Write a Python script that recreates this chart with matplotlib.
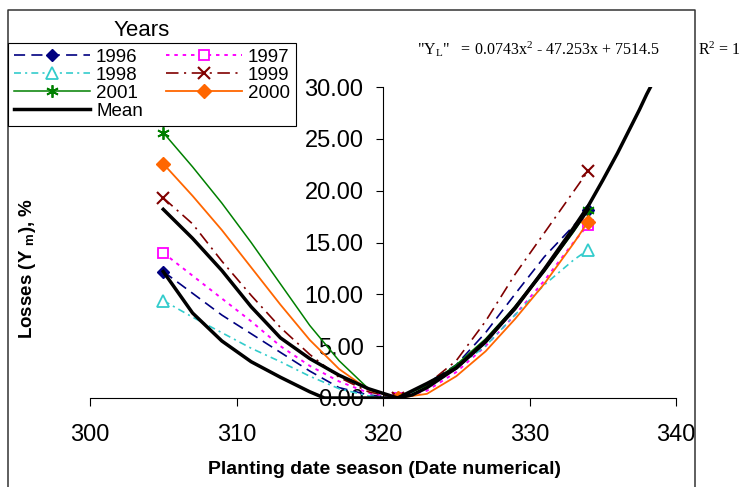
import matplotlib
matplotlib.use("Agg")
import matplotlib.pyplot as plt
from matplotlib.lines import Line2D

plt.rcParams['font.family'] = ['Liberation Sans', 'DejaVu Sans']
plt.rcParams['mathtext.fontset'] = 'custom'
plt.rcParams['mathtext.rm'] = 'Liberation Serif'
plt.rcParams['mathtext.it'] = 'Liberation Serif:italic'
plt.rcParams['mathtext.bf'] = 'Liberation Sans:bold'
plt.rcParams['lines.scale_dashes'] = False

# planting dates (date numerical) and losses, %
dates = [305, 307, 309, 311, 313, 315, 317, 319, 321, 323, 325, 327, 329, 331, 333, 334]
y1996 = [12.2, 10.1, 8.0, 6.2, 4.4, 2.6, 1.0, 0.3, 0, 1.4, 3.2, 6.3, 10.0, 13.6, 16.6, 18.1]
y1997 = [14.0, 11.8, 9.6, 7.4, 5.0, 3.1, 1.6, 0.5, 0, 0.7, 2.5, 5.0, 8.0, 11.3, 15.0, 16.7]
y1998 = [9.4, 7.8, 6.3, 4.8, 3.5, 2.1, 0.9, 0.2, 0, 1.0, 2.9, 5.0, 8.0, 10.9, 13.3, 14.3]
y1999 = [19.3, 16.8, 13.2, 9.9, 6.8, 4.2, 2.0, 0.6, 0, 1.3, 3.6, 7.4, 11.9, 15.9, 19.9, 21.9]
y2001 = [25.6, 22.3, 18.8, 15.0, 11.0, 7.0, 3.6, 0.9, 0, 1.2, 3.2, 5.7, 8.8, 12.2, 16.0, 18.1]
y2000 = [22.6, 19.5, 16.2, 12.6, 9.0, 5.6, 2.8, 0.8, 0, 0.4, 2.1, 4.5, 7.6, 11.0, 14.9, 17.0]
ymean = [18.2, 15.4, 12.3, 8.8, 5.8, 3.8, 2.2, 0.9, 0, 1.4, 2.9, 5.4, 8.7, 12.3, 16.2, 18.2]
marked = [0, 8, 15]   # observed points: 305, 321, 334

# fitted curve Y_L (clipped at 0 by the axis)
fit_dates = [305, 307, 309, 311, 313, 315, 316, 317, 319, 321, 322, 323, 325, 327, 329, 331, 333,
             334, 335, 336, 337, 337.5, 338, 339]
fit_y = [12.2, 8.2, 5.5, 3.5, 2.0, 0.6, 0, 0, 0, 0, 0.3, 1.0, 2.9, 5.5, 8.6, 12.4, 16.4,
         18.5, 21.0, 23.6, 26.4, 27.8, 29.3, 32.0]

xticks = [300, 310, 320, 330, 340]
yticks = [0, 5, 10, 15, 20, 25, 30]

W, H = 746, 487
fig = plt.figure(figsize=(W / 100, H / 100), dpi=100)
ax = fig.add_axes([90 / W, 89 / H, 586 / W, 311 / H])

h1996, = ax.plot(dates, y1996, color='#000080', lw=1.2, dashes=(8, 4.5),
                 marker='D', ms=6.5, mfc='#000080', mec='#000080', markevery=marked)
h1997, = ax.plot(dates, y1997, color='#FF00FF', lw=1.4, dashes=(2.5, 3.5),
                 marker='s', ms=7, mfc='white', mec='#FF00FF', mew=1.3, markevery=marked)
h1998, = ax.plot(dates, y1998, color='#33CCCC', lw=1.2, dashes=(5, 3, 1.5, 3),
                 marker='^', ms=8, mfc='white', mec='#33CCCC', mew=1.3, markevery=marked)
h1999, = ax.plot(dates, y1999, color='#800000', lw=1.2, dashes=(9, 4, 1.5, 4),
                 marker='x', ms=8, mec='#800000', mew=1.5, markevery=marked)
h2001, = ax.plot(dates, y2001, color='#008000', lw=1.1,
                 marker=(6, 2, 0), ms=9, mec='#008000', mew=1.3, markevery=marked)
h2000, = ax.plot(dates, y2000, color='#FF6600', lw=1.3,
                 marker='D', ms=7, mfc='#FF6600', mec='#FF6600', markevery=marked)
hmean, = ax.plot(dates, ymean, color='black', lw=2.5)
ax.plot(fit_dates, fit_y, color='black', lw=2.5)

ax.set_xlim(300, 340)
ax.set_ylim(0, 30)
ax.set_xticks(xticks)
ax.set_yticks(yticks)
ax.set_yticklabels(['%.2f' % v for v in yticks])
ax.spines['left'].set_position(('data', 320))
ax.spines['top'].set_visible(False)
ax.spines['right'].set_visible(False)
ax.tick_params(axis='y', direction='out', length=5, labelsize=17, pad=9)
ax.tick_params(axis='x', direction='out', length=6, labelsize=17, pad=13)
ax.patch.set_visible(False)

fig.text(385 / W, 1 - 469 / H, 'Planting date season (Date numerical)', ha='center', va='center',
         fontsize=14, fontweight='bold')
fig.text(27 / W, 1 - 269 / H, r'Losses (Y $_{\mathbf{m}}$), %', ha='center', va='center',
         rotation=90, fontsize=13.5, fontweight='bold')

fig.text(417 / W, 1 - 55 / H, r'"Y$_{\mathrm{L}}$"   = 0.0743x$^{\mathrm{2}}$ - 47.253x + 7514.5',
         family='Liberation Serif', fontsize=11.5, va='baseline')
fig.text(698 / W, 1 - 55 / H, r'R$^{\mathrm{2}}$ = 1', family='Liberation Serif', fontsize=11.5,
         va='baseline')

fig.text(142 / W, 1 - 31 / H, 'Years', ha='center', va='center', fontsize=16)
leg = fig.legend([h1996, h1998, h2001, hmean, h1997, h1999, h2000],
                 ['1996', '1998', '2001', 'Mean', '1997', '1999', '2000'],
                 ncol=2, loc='upper left', bbox_to_anchor=(8 / W, 1 - 43 / H),
                 fontsize=13.5, handlelength=4.1, handletextpad=0.3, columnspacing=1.2,
                 labelspacing=0.05, borderpad=0.3, borderaxespad=0,
                 fancybox=False, framealpha=1, edgecolor='black')
leg.get_frame().set_linewidth(0.8)

fig.add_artist(Line2D([8 / W, 8 / W, 695 / W, 695 / W], [0, 1 - 10 / H, 1 - 10 / H, 0],
                      color='#333333', lw=1.1, transform=fig.transFigure))

fig.savefig('out.png', dpi=100)
